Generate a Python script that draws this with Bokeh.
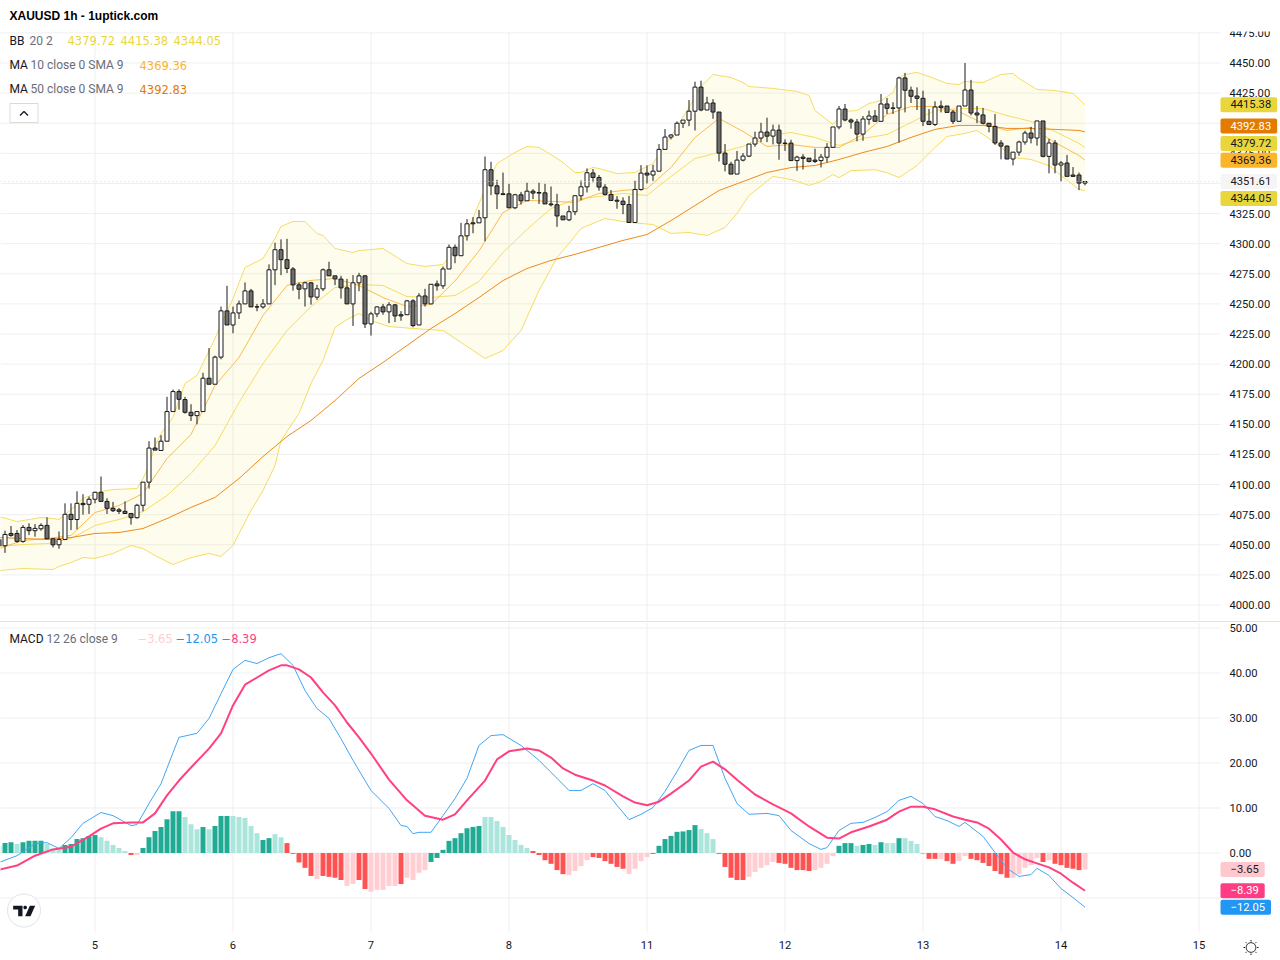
import math
from bokeh.plotting import figure
from bokeh.models import (ColumnDataSource, Range1d, FixedTicker, NumeralTickFormatter, Label,
                          PolyAnnotation, Spacer, LinearAxis)
from bokeh.layouts import column
from bokeh.embed import file_html
from bokeh.resources import INLINE

FIRST_BAR = -16
OPEN = [4054.4,4049.2,4059.4,4059.4,4052.8,4064.4,4061.7,4063.3,4066.1,4055,
4050,4054.4,4075.3,4071,4084.4,4083.6,4087.8,4093.6,4086,4080.3,
4079,4077.8,4076,4072.5,4082.8,4102,4130.3,4128.3,4136,4160.6,
4177.2,4170.6,4160,4157.2,4160.6,4188.3,4183.3,4205.8,4244.2,4232.5,
4242.5,4250,4260.8,4247.6,4247.5,4250,4278.3,4295,4286.7,4279,
4265.8,4262.5,4267.5,4255.6,4262.5,4278.3,4273.3,4270.6,4263.3,4250,
4267.5,4273.3,4233.4,4241.7,4247.5,4243.4,4249.2,4241,4241,4252.5,
4232.5,4256.6,4250,4266.6,4265,4279,4297,4290,4306.5,4317.3,
4317.3,4321.5,4361.4,4348,4341.4,4341.4,4329.8,4340.6,4335.6,4343.6,
4342.5,4342.2,4333,4332.3,4323,4319.8,4326.5,4339.8,4347.2,4358.7,
4355,4347,4340.9,4336.1,4335.3,4332.5,4317.6,4345,4358.6,4357,
4360.2,4378.3,4388.5,4390.2,4400,4402.6,4410,4430,4411,4416.8,
4409.3,4375.2,4366,4357.8,4369.4,4372.7,4382.7,4387.7,4392.7,4389.3,
4394.3,4383.5,4383.5,4369,4371.9,4371,4369.4,4369,4371.8,4380,
4396.9,4411.8,4402.7,4401,4391,4403.3,4406,4401.6,4416,4412.7,
4412.7,4437.6,4427.4,4422.6,4420.7,4401.6,4399,4414.3,4414.3,4409.3,
4401.6,4414.3,4427.6,4408.5,4406.9,4400,4397.4,4383.6,4381,4370.3,
4376,4384.4,4391.9,4387.7,4401.9,4372.5,4383.6,4365.3,4367,4357,4357,4350.3]
HIGH = [4056,4061.7,4065.6,4062.2,4066.4,4067.8,4067.2,4067.8,4072.8,4055,
4061,4084.4,4084.4,4094.4,4092,4090,4094,4106.7,4088.6,4085.6,
4080.6,4086,4076,4084,4102,4136,4139,4141,4172.8,4178.9,
4179,4172.8,4166.7,4160.6,4192.8,4213.3,4207,4247.8,4265,4247.8,
4252.8,4267.8,4262.5,4250,4254,4282.8,4300.8,4303.6,4304,4280.6,
4267.8,4268.3,4268.3,4265.8,4279.4,4285,4273.3,4273.3,4270.8,4273.9,
4275.8,4273.9,4243.4,4248,4250,4251.4,4250,4244,4253.3,4253.9,
4258.9,4262.5,4266.3,4269.4,4281,4299.3,4299.3,4317.3,4320.4,4322,
4328,4372.4,4368,4353,4359,4349.7,4341.4,4343,4350.6,4345.3,
4350.6,4349.7,4347.5,4341.4,4323,4331.4,4339.8,4352.5,4362.5,4362,
4357,4349.4,4344.5,4339.5,4338.4,4339.7,4352.2,4365.2,4365,4365.5,
4382.7,4395.2,4391,4401.5,4402.6,4419.3,4434.5,4435.3,4422,4420,
4409.3,4382.7,4368,4377,4375.2,4382.7,4393,4400.4,4404.6,4398.8,
4398.8,4386.6,4386.3,4373,4374.4,4371,4378.8,4374.4,4383.5,4396.9,
4414.3,4416,4404,4403.5,4406,4410.5,4411,4424.3,4421,4417.4,
4438.7,4441.8,4430.4,4429.8,4427,4411.8,4418.2,4418.8,4414.3,4411,
4414.3,4450,4436,4414.3,4412.7,4400,4407.7,4386,4381.6,4376,
4385.5,4393.8,4397,4401.9,4401.9,4387,4386,4368.6,4373.6,4363.6,4359,4351.6]
LOW = [4047,4043.3,4056.7,4051.7,4051.7,4058,4056.7,4061.7,4055,4047.8,
4046.7,4054.4,4062.2,4062.8,4075,4075.6,4084.4,4086,4075.6,4077.2,
4075.6,4075.6,4066.7,4071.7,4077.8,4096.7,4128.6,4128,4136,4160.6,
4162.2,4158.9,4152.8,4150,4160.6,4183.3,4183.3,4204,4232.5,4225.6,
4237.5,4250,4247.5,4243.9,4246,4250,4265.6,4273.9,4275.6,4261,
4253.9,4247.8,4249.4,4253.3,4260.6,4273.3,4265.6,4254.4,4250,4231.7,
4260.6,4230,4223.7,4239,4241,4234,4235,4236,4241,4230.6,
4232.5,4247.8,4250,4261,4262.5,4279,4283.8,4290,4302.6,4308.7,
4317.3,4302,4340.3,4328.7,4340.3,4329.8,4328.7,4332.5,4335.6,4337,
4333,4333,4330.9,4314,4319.8,4318.7,4323.7,4336,4342.5,4351,
4344,4340,4335.9,4329,4324.5,4317.6,4317.6,4344,4350,4352.2,
4360,4378.3,4386.6,4390.2,4396,4397.6,4394,4410,4411,4403.7,
4368.3,4360,4357.8,4357.8,4368.3,4371.9,4380.5,4384.3,4384.3,4382.4,
4369.7,4377,4369,4360.5,4361.6,4367.5,4367,4363.3,4367.5,4380,
4395,4401.6,4395.5,4385,4385.5,4398.8,4401.6,4401.6,4407.7,4407.7,
4384,4409,4416.8,4411,4397.7,4399,4397.7,4409,4409,4399.4,
4401.6,4414.3,4406.6,4400,4399,4392.5,4382,4370,4370.3,4365,
4373,4382.2,4383.3,4381.4,4371.7,4358.4,4358.4,4351.7,4355.9,4355.3,4344.5,4348.4]
CLOSE = [4049,4058.6,4057.8,4052.8,4064.4,4061.7,4063.6,4066.1,4055,4050,
4054.4,4075.3,4071,4084.4,4083.3,4087.8,4093.6,4086,4080.3,4078.3,
4077.8,4076,4072.5,4082.8,4102,4130.3,4128.6,4136,4160.6,4177.2,
4170.8,4160,4157.2,4160.6,4188.3,4183.3,4205.8,4244.2,4232.5,4242.5,
4250,4260.8,4247.5,4247.4,4250,4278.3,4295,4286.7,4279.4,4265.8,
4262.2,4267.5,4255.8,4262.5,4278.3,4273.3,4270.8,4263.3,4250,4267.5,
4273.3,4233.3,4241.7,4247.5,4243.4,4249.2,4240,4240,4252.5,4232,
4256.6,4250,4266.3,4265,4279,4297,4290,4306.5,4316.5,4316.5,
4321.5,4361.4,4348,4341.4,4340.8,4329.8,4340.6,4335.6,4343.6,4342,
4342,4333,4332.3,4323,4319.8,4326.5,4339.8,4347.2,4358.9,4355,
4347,4340.9,4335.9,4335.3,4332.5,4317.6,4345,4358.6,4357,4360.2,
4378.3,4388.5,4390.2,4400,4402.6,4410,4430,4411,4416.8,4409.3,
4375.2,4366,4357.8,4369.4,4372.7,4382.7,4387.7,4392.7,4389.3,4394.3,
4383.5,4383.2,4369,4371.9,4370.8,4368.3,4368.3,4371.9,4380,4396.9,
4411.8,4402.7,4401,4391,4403.5,4406,4401.6,4416,4412.4,4412.4,
4437.6,4427.4,4422.4,4420.7,4401.6,4399,4413.5,4413,4409,4401.6,
4414.3,4427.6,4408.5,4406.9,4400,4397.4,4383.6,4381,4370.3,4376,
4384.4,4391.9,4387.7,4401.9,4372.5,4383.6,4365.3,4367,4355.9,4355.9,4350.3,4351.61]

UPPER_BARS = [-16,-13,-10,-9,-7,-6,-4,-2,1,3,7,8,9,10,11,13,15,17,20,23,25,28,30,31,33,35,37,38,40,43,44,48,52,55,58,60,
              62,64,67,70,72,74,76,78,80,81,83,84,87,90,93,96,99,101,103,106,108,109,113,117,119,120,123,125,127,129,131,
              133,134,135,137,139,142,144,145,148,151,153,154,157,160,163,165]
BB_UPPER = [4073.5,4069.3,4071.8,4072.7,4071.8,4071,4079.3,4088.4,4094.2,4095.9,4096.7,4105,4115.8,4132.4,4142.4,4155.7,4183.9,
            4190.6,4221.3,4254.5,4280.2,4287.7,4304.3,4314.3,4318.4,4318.4,4308.4,4306.8,4296,4292.7,4294.3,4296,4283.5,4281.1,
            4282.7,4294.3,4309.3,4333.4,4366.6,4375.7,4380.7,4379.9,4374,4367.4,4359.1,4359.1,4363.3,4362.4,4358.2,4359.1,
            4366.6,4389,4413.1,4430.5,4440.5,4438,4433.8,4430.5,4428.9,4426.4,4423,4410.6,4399,4409.8,4410.6,4416.4,4418.9,
            4425.5,4437.2,4440.5,4442.2,4438.8,4433,4432.2,4434.7,4433.8,4440.5,4441.4,4437.2,4428.1,4427.2,4424.7,4415.38]
LOWER_BARS = [-16,-12,-7,-6,-4,-2,0,3,6,8,10,13,16,19,21,23,24,26,28,30,31,34,36,38,40,42,44,46,49,53,58,61,65,68,71,74,77,
              79,81,83,85,89,93,96,99,102,105,107,109,113,116,119,121,123,124,126,130,132,134,137,140,142,145,147,150,153,
              156,159,161,164,165]
BB_LOWER = [4028.6,4030.3,4029.5,4032,4035.3,4039.4,4038.7,4042.8,4049.4,4046.9,4041.1,4033.6,4039.4,4042.8,4040.3,4049.4,
            4059.4,4078.5,4095,4115.8,4136.6,4159,4183.9,4203,4230.4,4237,4242,4236.2,4231.2,4229.6,4227.9,4218,4204.7,4211.3,
            4227.9,4261.1,4288.5,4300.2,4312.6,4316.8,4320.9,4317.6,4315.9,4308.5,4309.3,4306.8,4313.4,4325,4340,4355.8,
            4353.3,4348.3,4351.6,4357.4,4354.9,4360.6,4361.4,4358.9,4354.9,4364.9,4379.9,4389,4391.5,4394,4384,4371.6,4369.9,
            4364.9,4356.6,4345,4344.05]
BAND_BARS = [-16,-12,-8,-4,0,4,8,12,16,20,24,28,32,36,40,44,48,52,56,60,64,68,72,76,80,84,88,92,96,100,
             104,108,112,116,120,124,128,132,136,140,144,148,152,156,160,164,165]
BB_BASIS = [4048.6,4050.2,4051,4055.2,4066,4071,4077.6,4090.9,4109.2,4132.4,4168.1,4200.5,4227.9,4247.8,4263.6,4266.1,
            4265.3,4256.1,4255.3,4257,4268.6,4292.7,4311.8,4329.2,4336.7,4339.2,4341.7,4340.1,4355.8,4370.7,4375.7,4380.7,
            4389.9,4392.3,4388.2,4381.6,4387.4,4390.7,4400.6,4410.6,4412.2,4412.2,4406.4,4401.5,4393.2,4383.2,4379.72]
MA10 = [4046.9,4053.6,4055.2,4057.7,4076.8,4082.6,4092.6,4121.6,4141.6,4182.2,4205.5,4240.4,4265.3,4269.5,4271.1,4265.3,
        4255.3,4247.8,4249.5,4269.1,4294,4325.9,4336,4335.1,4334.3,4341.7,4344.2,4345.8,4363.3,4388.2,4404,4393.2,
        4380.7,4382.4,4379.9,4379.9,4390.7,4407.3,4413.9,4413.9,4409.7,4399.8,4394,4396.5,4384,4373.2,4369.36]
MA50 = [4056,4055.2,4054.4,4056,4059.4,4060.2,4063.5,4071.8,4081,4089.3,4105,4123.3,4139.9,4153.2,4169.8,4188.1,
        4201.4,4215.5,4229.6,4242,4255.3,4269.4,4279.4,4286.1,4291.1,4296.9,4302.7,4307.6,4319.2,4331.7,4344.2,4351.6,
        4359.1,4363.2,4364.9,4369.9,4375.7,4380.7,4388.2,4394.9,4398.2,4398.2,4395.7,4395.7,4394.9,4394,4392.83]

HIST = [1.6,2.2,2.4,2.0,2.4,2.7,2.7,2.7,2.0,1.0,1.0,1.8,2.0,3.1,3.3,3.8,4.0,3.5,2.7,1.8,1.1,0.45,-0.45,-0.45,1.1,3.5,
        4.9,5.8,7.5,9.3,9.3,8.0,6.4,5.3,5.8,5.3,6.0,8.2,8.2,8.2,8.0,7.8,6.0,4.4,2.9,3.3,4.2,3.5,2.2,-0.2,-2.1,-3.3,-5.1,
        -5.8,-5.1,-5.3,-5.5,-6.0,-7.3,-6.9,-6.0,-8.0,-8.6,-8.2,-8.2,-7.3,-7.3,-6.9,-5.5,-6.0,-4.4,-3.8,-2.0,-1.1,0.7,2.7,
        3.3,4.4,5.5,5.8,6.0,8.0,8.0,7.1,5.8,4.0,2.9,1.8,1.1,0.45,-0.45,-1.6,-2.4,-3.8,-4.7,-4.9,-4.0,-2.9,-1.6,-0.9,-1.1,
        -1.8,-2.4,-3.1,-3.5,-4.7,-3.5,-1.8,-0.9,-0.2,1.6,3.1,3.8,4.7,4.8,5.1,6.2,5.3,4.4,3.1,-0.2,-3.1,-5.5,-6.0,-6.0,-5.3,
        -4.2,-3.3,-2.7,-2.0,-2.2,-2.4,-3.3,-3.8,-3.8,-4.0,-3.8,-3.3,-2.4,-0.7,1.6,2.2,2.2,1.6,1.8,2.0,1.8,2.4,2.2,2.2,3.3,
        3.3,2.7,2.0,-0.1,-1.3,-1.3,-1.3,-1.8,-2.4,-1.8,-0.7,-1.3,-1.6,-2.2,-2.9,-4.0,-4.7,-5.5,-5.5,-4.7,-3.3,-2.7,-1.1,
        -2.0,-1.6,-2.4,-2.7,-3.3,-3.5,-3.8,-3.65]
HIST_KIND = list("LDDLDDDDLLLDDDDDDLLLLLRP"
                 "DDDDDDDLLLDLDDDLLLLLDDLLRR"
                 "RRRPRRRRPPRRPPPPPRPPPPDD"
                 "DDDDDDDLLLLLLLLRRRRRRPPPPR"
                 "RRRRRPPPPDDDDDDDDLLLRRRRRP"
                 "PPPPRRRRRRPPPPDDDLDDLDLLDLLLRRRP"
                 "RRPPRRRRRRRPPPPPRPRRRRRP")

MACD_BARS = [-16,-13,-10,-8,-6,-4,-2,1,3,6,7,9,11,13,14,17,19,21,23,25,27,29,31,33,35,37,39,41,43,45,46,49,51,52,53,54,
             56,58,60,62,64,66,68,71,74,77,79,81,83,85,87,89,91,93,95,97,99,101,103,105,107,109,112,114,116,119,121,122,
             124,126,128,130,132,134,136,138,140,142,144,145,148,150,152,154,156,157,159,161,163,165]
MACD_LINE = [-2.1,-0.6,2.1,2.3,1.0,3.4,6.6,9,8.3,6.1,6.3,11,15.4,22.3,25.7,26.6,29.9,35.4,40.8,42.8,42.1,43.4,44.3,41.7,36.1,
             32.1,29.9,25.4,20.6,16.1,13.9,9.9,6.1,5.9,4.3,4.6,4.6,8.3,12.1,16.6,23.9,26.1,26.3,23.9,20.6,16.6,13.9,13.9,15.4,
             13.9,10.6,7.4,8.6,10.1,13.7,18.1,22.8,23.9,23.9,16.6,11,8.6,8.8,8.3,5,2.1,0.8,1.2,5,6.6,6.8,7.9,9.2,11.7,12.6,11,
             8.1,7.2,5.9,6.8,3.7,0.1,-3.4,-5.2,-4.8,-3.4,-5,-7.9,-9.9,-12.05]
SIGNAL_BARS = [-16,-13,-10,-7,-4,-1,1,3,6,8,10,12,14,16,19,21,23,25,27,29,31,32,34,36,38,40,42,44,46,49,52,55,58,60,62,65,
               67,69,72,74,76,78,80,83,85,88,90,92,94,96,99,101,103,105,107,110,113,116,119,122,124,126,129,132,134,136,
               138,140,143,145,147,149,151,153,155,157,159,161,163,165]
SIGNAL_LINE = [-3.7,-2.8,-0.6,0.8,1.4,3.7,5.4,6.6,6.8,6.8,8.8,12.8,16.1,19,23.2,26.6,32.8,37.4,39,40.6,41.7,41.7,40.8,39,35.7,
               32.8,29,25.7,22.1,16.3,11.7,8.3,7.4,8.6,11.7,16.1,20.8,22.6,23.2,22.8,21.2,18.8,17.4,16.1,15,12.6,11.2,10.6,
               11.4,13.2,16.1,19.2,20.3,18.6,16.3,13,10.8,8.8,5.9,3.4,3.2,4.6,5.9,7.4,9.2,10.3,10.3,9.7,8.1,7.4,6.8,5.4,3,0.1,
               -1.4,-2.3,-3.2,-4.6,-6.6,-8.39]

PRICE_TICKS = [4000+25*k for k in range(20)]
MACD_TICKS = [-10,0,10,20,30,40,50]
DAY_BARS = [0,23,46,69,92,115,138,161,184]
DAY_LABELS = ["5","6","7","8","11","12","13","14","15"]
LAST_PRICE = 4351.61

PRICE_TAGS = [("4415.38",4415.38,"#E9D63C","#131722"),("4392.83",4397.7,"#E37B00","#FFFFFF"),
              ("4379.72",4383.2,"#E9D63C","#131722"),("4369.36",4369.36,"#FBB52A","#131722"),
              ("4351.61",4351.61,"#F5F5F6","#131722"),("4344.05",4337.5,"#E9D63C","#131722")]
MACD_TAGS = [("\u22123.65",-3.65,"#FFC8CE","#131722"),("\u22128.39",-8.39,"#FF3D84","#FFFFFF"),
             ("\u221212.05",-12.05,"#2196F3","#FFFFFF")]

# ---------- geometry: each frame fills its whole canvas
W, H1, H2 = 1280, 621, 338
PANE_R = 1220
px_per_bar = 6.0
P_SCALE = 30.11/25
M_SCALE = 4.5
UI = "Roboto"
VAL = "DejaVu Sans"
GRID = "#EFEFEF"
TICK_SIZE = "11.2px"

bar_of = lambda x: (x-94.5)/px_per_bar
price_of = lambda y: 4000+(604.5-y)/P_SCALE
macd_of = lambda y: (852.5-y)/M_SCALE

x_range = Range1d(bar_of(0), bar_of(W))
p1 = figure(width=W, height=H1, x_range=x_range, y_range=Range1d(price_of(621), price_of(0)),
            x_axis_location=None, y_axis_location=None, output_backend="svg", toolbar_location=None,
            min_border_left=0, min_border_right=0, min_border_top=0, min_border_bottom=0, outline_line_color=None)
p2 = figure(width=W, height=H2, x_range=x_range, y_range=Range1d(macd_of(960), macd_of(622)),
            x_axis_location=None, y_axis_location=None, output_backend="svg", toolbar_location=None,
            min_border_left=0, min_border_right=0, min_border_top=0, min_border_bottom=0, outline_line_color=None)
p1.grid.visible = False
p2.grid.visible = False

def style_axis(ax):
    ax.axis_line_color = None
    ax.major_tick_line_color = None
    ax.minor_tick_line_color = None
    ax.major_tick_out = 0
    ax.major_tick_in = 0
    ax.major_label_text_font = UI
    ax.major_label_text_font_size = TICK_SIZE
    ax.major_label_text_color = "#131722"

# gridlines stop at the axis column and below the title row
p1.segment(DAY_BARS, price_of(621), DAY_BARS, price_of(31), line_color=GRID, line_width=1)
p1.segment(bar_of(0), PRICE_TICKS, bar_of(PANE_R), PRICE_TICKS, line_color=GRID, line_width=1)
p2.segment(DAY_BARS, macd_of(622), DAY_BARS, macd_of(932), line_color=GRID, line_width=1)
p2.segment(bar_of(0), MACD_TICKS, bar_of(PANE_R), MACD_TICKS, line_color=GRID, line_width=1)

a1 = LinearAxis(fixed_location=bar_of(PANE_R), ticker=FixedTicker(ticks=PRICE_TICKS),
                formatter=NumeralTickFormatter(format="0.00"), major_label_standoff=9)
style_axis(a1)
p1.add_layout(a1, "right")
a2 = LinearAxis(fixed_location=bar_of(PANE_R), ticker=FixedTicker(ticks=MACD_TICKS),
                formatter=NumeralTickFormatter(format="0.00"), major_label_standoff=9,
                major_label_overrides={-10: ""})
style_axis(a2)
p2.add_layout(a2, "right")
a3 = LinearAxis(fixed_location=macd_of(932), ticker=FixedTicker(ticks=DAY_BARS),
                major_label_overrides=dict(zip(DAY_BARS, DAY_LABELS)), major_label_standoff=8)
style_axis(a3)
p2.add_layout(a3, "below")

# ---------- price pane
bars = list(range(FIRST_BAR, FIRST_BAR+len(CLOSE)))
top = [max(o, c) for o, c in zip(OPEN, CLOSE)]
bot = [min(o, c) for o, c in zip(OPEN, CLOSE)]
fills = ["#FFFFFF" if c >= o else "#6E6E6E" for o, c in zip(OPEN, CLOSE)]
candles = ColumnDataSource(dict(x=bars, high=HIGH, low=LOW, top=top, bottom=bot, fill=fills))

p1.patch(UPPER_BARS+LOWER_BARS[::-1], BB_UPPER+BB_LOWER[::-1], fill_color="#F5E34D", fill_alpha=0.1, line_color=None)
p1.line(UPPER_BARS, BB_UPPER, line_color="#F6DC63", line_width=1)
p1.line(LOWER_BARS, BB_LOWER, line_color="#F6DC63", line_width=1)
p1.line(BAND_BARS, BB_BASIS, line_color="#F6DC63", line_width=1)
p1.line(BAND_BARS, MA10, line_color="#FBBB50", line_width=1)
p1.line(BAND_BARS, MA50, line_color="#EE8A1B", line_width=1)
p1.segment("x", "low", "x", "high", source=candles, line_color="#1A1A1A", line_width=1)
p1.vbar("x", 4/6, "bottom", "top", source=candles, fill_color="fill", line_color="#1A1A1A", line_width=1)
p1.line([bar_of(0), bar_of(PANE_R)], [LAST_PRICE, LAST_PRICE], line_color="#D8D8D8", line_dash="1 3", line_width=1)

# collapse button
p1.quad(left=bar_of(9.5), right=bar_of(37.5), top=price_of(103), bottom=price_of(122), fill_color="#FFFFFF", line_color="#DADADA")
p1.line([bar_of(19.5), bar_of(23.5), bar_of(27.5)], [price_of(115), price_of(111), price_of(115)], line_color="#131722", line_width=1.3)

# ---------- MACD pane
KIND = {"D": "#22AB94", "L": "#ACE5DC", "R": "#FF5252", "P": "#FFCDD2"}
hist = ColumnDataSource(dict(x=bars, top=HIST, color=[KIND[k] for k in HIST_KIND]))
p2.vbar("x", 5/6, 0, "top", source=hist, fill_color="color", line_color=None)
p2.line(MACD_BARS, MACD_LINE, line_color="#42A5F5", line_width=1)
p2.line(SIGNAL_BARS, SIGNAL_LINE, line_color="#FF4081", line_width=2)

# ---------- texts
LVL = "overlay"
def text(p, off, s, x, y, color="#131722", font=UI, size="12px", style="normal"):
    p.add_layout(Label(x=x, y=y-off, x_units="canvas", y_units="canvas", text=s, text_color=color, text_font=font,
                       text_font_size=size, text_font_style=style, text_baseline="middle", text_align="left", level=LVL))

text(p1, 0, "XAUUSD 1h - 1uptick.com", 9, 15, font="Liberation Sans", style="bold", size="12px", color="#000000")
YEL, ORA, DOR = "#E9D63C", "#FBB52A", "#E37B00"
text(p1, 0, "BB", 9, 40)
text(p1, 0, "20 2", 29, 40, color="#6A6D78")
for s, x in (("4379.72", 67), ("4415.38", 120), ("4344.05", 173)):
    text(p1, 0, s, x, 40, color=YEL, font=VAL, size="11.5px")
text(p1, 0, "MA", 9, 64.5)
text(p1, 0, "10 close 0 SMA 9", 30, 64.5, color="#6A6D78")
text(p1, 0, "4369.36", 139, 64.5, color=ORA, font=VAL, size="11.5px")
text(p1, 0, "MA", 9, 88.5)
text(p1, 0, "50 close 0 SMA 9", 30, 88.5, color="#6A6D78")
text(p1, 0, "4392.83", 139, 88.5, color=DOR, font=VAL, size="11.5px")
text(p2, 622, "MACD", 9, 638)
text(p2, 622, "12 26 close 9", 46, 638, color="#6A6D78")
text(p2, 622, "\u22123.65", 137, 638, color="#FFCDD2", font=VAL, size="11.5px")
text(p2, 622, "\u221212.05", 175, 638, color="#2196F3", font=VAL, size="11.5px")
text(p2, 622, "\u22128.39", 221, 638, color="#FF4081", font=VAL, size="11.5px")

def tag(p, s, y, bg, fg):
    p.add_layout(Label(x=PANE_R, y=y, x_units="canvas", y_units="data", text=s, text_color=fg, text_font=UI,
                       text_font_size=TICK_SIZE, text_baseline="middle", text_align="left",
                       background_fill_color=bg, border_radius=2, padding=(10, 6, 3, 4), level=LVL))
for s, y, bg, fg in PRICE_TAGS:
    tag(p1, s, y, bg, fg)
for s, y, bg, fg in MACD_TAGS:
    tag(p2, s, y, bg, fg)

# ---------- small interface shapes
def poly(p, off, pts, fill=None, line=None, lw=1):
    p.add_layout(PolyAnnotation(xs=[a for a, b in pts], ys=[b-off for a, b in pts], xs_units="canvas", ys_units="canvas",
                                fill_color=fill, fill_alpha=1 if fill else 0, line_color=line, line_alpha=1 if line else 0,
                                line_width=lw, editable=False, level=LVL))
def ring(cx, cy, r, n=40):
    return [(cx+r*math.cos(2*math.pi*k/n), cy+r*math.sin(2*math.pi*k/n)) for k in range(n)]

# the axis column is cut off at the top of the pane
p1.add_layout(PolyAnnotation(xs=[1222, 1280, 1280, 1222], ys=[0, 0, 31, 31], xs_units="canvas", ys_units="canvas",
                             fill_color="#FFFFFF", fill_alpha=1, line_alpha=0, editable=False, level="annotation"))
# logo
poly(p2, 622, ring(23.5, 910, 16.5), fill="#FFFFFF", line="#E0E3EB", lw=1)
Z = lambda a, b: (a/3, 780+b/3)
poly(p2, 622, [Z(38,376),Z(66,376),Z(66,407),Z(53,407),Z(53,387),Z(38,387)], fill="#131722")
poly(p2, 622, [(74/3+5.5/3*math.cos(k/8*math.pi), 780+381/3+5.5/3*math.sin(k/8*math.pi)) for k in range(16)], fill="#131722")
poly(p2, 622, [Z(88,376),Z(104,376),Z(90,407),Z(74,407)], fill="#131722")
# theme icon
poly(p2, 622, ring(1250.5, 947, 4.8), line="#131722", lw=1)
for k in range(8):
    a = k*math.pi/4
    poly(p2, 622, [(1250.5+6*math.cos(a), 947+6*math.sin(a)), (1250.5+7.5*math.cos(a), 947+7.5*math.sin(a))], line="#131722", lw=1)

sep = Spacer(width=W, height=1, styles={"background-color": "#E0E3EB"})
page = column(p1, sep, p2, spacing=0)
open("out.html", "w").write(file_html(page, INLINE))
